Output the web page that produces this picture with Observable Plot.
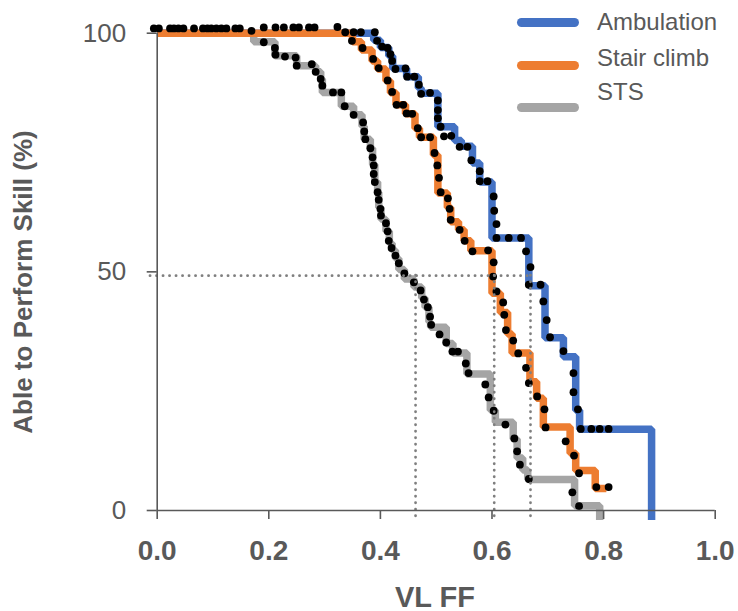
<!DOCTYPE html>
<html><head><meta charset="utf-8">
<script src="https://cdn.jsdelivr.net/npm/d3@7"></script>
<script src="https://cdn.jsdelivr.net/npm/@observablehq/plot@0.6"></script>
<style>
body{margin:0;background:#fff;font-family:"Liberation Sans",Arial,sans-serif;}
#wrap{position:relative;width:738px;height:611px;overflow:hidden;}
#wrap svg{position:absolute;left:0;top:0;}
.lbl{position:absolute;color:#595959;white-space:nowrap;line-height:1;}
.sw{position:absolute;height:9px;border-radius:4.5px;}
</style></head><body><div id="wrap"></div>
<script>
const seriesNames = ["Ambulation", "Stair climb", "STS"];
const seriesColors = ["#4472C4", "#ED7D31", "#A5A5A5"];
const xTicks = [0, 0.2, 0.4, 0.6, 0.8, 1.0];
const yTicks = [0, 50, 100];
const xTitle = "VL FF";
const yTitle = "Able to Perform Skill (%)";

// step outlines (jump position, level after jump)
const ambLineX = [0, 0.388, 0.400, 0.415, 0.422, 0.447, 0.468, 0.473, 0.503, 0.533, 0.545, 0.565, 0.578, 0.600, 0.666, 0.695, 0.728, 0.750, 0.757, 0.886];
const ambLineY = [100, 98.5, 97, 95.2, 92.6, 90.9, 88.5, 87.4, 80.4, 77.5, 76.3, 72.8, 68.8, 57.1, 47.1, 36.2, 32.2, 21, 17, -2];
const stairLineX = [0, 0.350, 0.366, 0.385, 0.395, 0.410, 0.418, 0.428, 0.445, 0.462, 0.470, 0.495, 0.503, 0.520, 0.526, 0.540, 0.550, 0.562, 0.600, 0.615, 0.628, 0.636, 0.668, 0.680, 0.692, 0.740, 0.750, 0.785, 0.805];
const stairLineY = [100, 98.2, 96.5, 94.2, 92.5, 90, 87.5, 85, 83.1, 80.1, 78.2, 74.5, 66.5, 63.5, 60.5, 58.8, 56.5, 54.4, 45.5, 41.5, 37, 33, 27, 23.5, 17.5, 12, 8.4, 4.6, 4.6];
const stsLineX = [0, 0.173, 0.211, 0.250, 0.284, 0.293, 0.296, 0.330, 0.352, 0.367, 0.371, 0.382, 0.386, 0.390, 0.395, 0.397, 0.401, 0.410, 0.416, 0.421, 0.427, 0.433, 0.443, 0.460, 0.474, 0.480, 0.487, 0.490, 0.518, 0.530, 0.555, 0.597, 0.606, 0.638, 0.645, 0.655, 0.664, 0.748, 0.793];
const stsLineY = [100, 98.2, 95.3, 93.2, 91.9, 90.4, 87.6, 84.7, 82.9, 80.5, 77.8, 75.9, 72.5, 68.8, 66.7, 63.5, 61, 58.5, 56, 54.5, 52.8, 50.5, 48.5, 46.8, 44.5, 42.6, 39.5, 38.4, 35, 33, 28.6, 21, 18.5, 15, 11, 8.5, 6.5, 1, -2];

// observations (dots)
const topDotX = [-0.006, 0.003, 0.023, 0.030, 0.038, 0.047, 0.066, 0.082, 0.090, 0.097, 0.106, 0.115, 0.124, 0.140, 0.148, 0.169, 0.191, 0.212, 0.227, 0.244, 0.254, 0.272, 0.282, 0.323, 0.337, 0.352, 0.365, 0.390];
const topDotY = [101, 101, 101, 101, 101, 101, 101, 101, 101, 101, 101, 101, 101, 101, 101, 100.5, 101.2, 101.2, 101.2, 101.2, 101.2, 101.2, 101.2, 101.3, 100.2, 100.2, 100.2, 100.2];
const ambDotX = [0.394, 0.403, 0.413, 0.418, 0.421, 0.427, 0.445, 0.448, 0.461, 0.469, 0.473, 0.489, 0.503, 0.503, 0.503, 0.508, 0.514, 0.527, 0.542, 0.556, 0.563, 0.578, 0.578, 0.592, 0.603, 0.604, 0.608, 0.608, 0.630, 0.652, 0.661, 0.669, 0.666, 0.687, 0.692, 0.698, 0.704, 0.728, 0.746, 0.746, 0.754, 0.759, 0.778, 0.793, 0.809];
const ambDotY = [98.4, 97.2, 96.9, 95.6, 94.2, 92.5, 92.6, 90.9, 90.9, 89.2, 87.3, 87.5, 85.9, 83.9, 82.2, 80.4, 78.4, 78.5, 76.2, 76.2, 73.4, 71.1, 69.0, 69.0, 65.8, 62.8, 60.0, 57.1, 57.1, 57.1, 54.3, 51.0, 47.3, 47.3, 43.8, 39.9, 36.3, 33.4, 28.8, 24.8, 21.2, 17.1, 17.1, 17.1, 17.1];
const stairDotX = [0.349, 0.368, 0.387, 0.397, 0.413, 0.421, 0.429, 0.441, 0.447, 0.457, 0.467, 0.473, 0.489, 0.497, 0.502, 0.505, 0.508, 0.521, 0.524, 0.526, 0.542, 0.551, 0.565, 0.593, 0.603, 0.602, 0.608, 0.620, 0.622, 0.625, 0.638, 0.647, 0.661, 0.666, 0.681, 0.694, 0.696, 0.732, 0.747, 0.756, 0.787, 0.809];
const stairDotY = [98.4, 96.9, 94.6, 92.7, 90.1, 87.7, 85.0, 85.0, 83.2, 83.1, 80.1, 78.2, 78.2, 74.9, 72.3, 69.7, 66.7, 65.4, 63.2, 60.9, 58.8, 56.5, 54.3, 54.5, 52.0, 49.0, 45.9, 43.6, 41.0, 37.8, 35.6, 32.9, 29.9, 26.7, 23.9, 21.2, 17.4, 14.5, 11.5, 7.8, 4.9, 4.9];
const stsDotX = [0.191, 0.211, 0.212, 0.229, 0.248, 0.250, 0.277, 0.284, 0.293, 0.296, 0.315, 0.330, 0.336, 0.352, 0.369, 0.371, 0.373, 0.382, 0.386, 0.388, 0.388, 0.390, 0.395, 0.397, 0.400, 0.401, 0.410, 0.413, 0.415, 0.420, 0.427, 0.433, 0.443, 0.460, 0.472, 0.478, 0.485, 0.489, 0.491, 0.506, 0.518, 0.529, 0.539, 0.553, 0.558, 0.588, 0.594, 0.603, 0.624, 0.640, 0.645, 0.650, 0.666, 0.744, 0.756];
const stsDotY = [98.1, 96.9, 95.5, 95.1, 94.9, 93.2, 93.5, 91.9, 90.4, 89.0, 87.6, 87.6, 84.7, 82.9, 81.3, 79.4, 77.8, 75.9, 74.0, 72.3, 70.5, 68.8, 66.7, 65.1, 63.2, 61.8, 60.2, 58.5, 56.5, 55.0, 53.4, 51.8, 49.7, 47.8, 46.1, 44.2, 42.6, 40.6, 38.9, 36.9, 35.2, 33.3, 33.3, 30.8, 28.8, 26.4, 23.7, 20.9, 18.0, 15.1, 12.4, 9.6, 6.6, 3.8, 0.9];

// 50% reference guides
const halfLevel = 49.2;
const halfX = [0.463, 0.604, 0.669];

const toPts = (xs, ys) => xs.map((x, i) => ({x, y: ys[i]}));
const lines = [
  {pts: toPts(stsLineX, stsLineY), c: seriesColors[2]},
  {pts: toPts(ambLineX, ambLineY), c: seriesColors[0]},
  {pts: toPts(stairLineX, stairLineY), c: seriesColors[1]}
];
const dots = [
  ...toPts(topDotX, topDotY), ...toPts(ambDotX, ambDotY),
  ...toPts(stairDotX, stairDotY), ...toPts(stsDotX, stsDotY)
];

const ink = "#595959";
const chart = Plot.plot({
  width: 738, height: 611,
  marginLeft: 156.7, marginRight: 23.3, marginTop: 32.7, marginBottom: 101,
  x: {domain: [0, 1]},
  y: {domain: [0, 100]},
  style: {fontFamily: "'Liberation Sans', Arial, sans-serif", background: "white", overflow: "visible"},
  marks: [
    ...lines.map(l => Plot.line(l.pts, {x: "x", y: "y", curve: "step-after", stroke: l.c, strokeWidth: 7.5, strokeLinejoin: "miter", strokeLinecap: "butt"})),
    Plot.dot(dots, {x: "x", y: "y", r: 3.9, fill: "black", stroke: "none"}),
    Plot.ruleY([halfLevel], {x1: -0.012, x2: halfX[2], stroke: "#7f7f7f", strokeWidth: 2.8, strokeDasharray: "0.1 6.4", strokeLinecap: "round"}),
    Plot.ruleX(halfX, {y1: halfLevel, y2: -2.2, stroke: "#7f7f7f", strokeWidth: 2.8, strokeDasharray: "0.1 6.4", strokeLinecap: "round"}),
    Plot.ruleX([0], {y1: 0, y2: 100, stroke: ink, strokeWidth: 1.6}),
    Plot.ruleY([0], {x1: 0, x2: 1, stroke: ink, strokeWidth: 1.6}),
    Plot.axisX(xTicks, {tickSize: 9, tickPadding: 21, tickFormat: d3.format(".1f"), fontSize: 28, fontWeight: "bold", color: ink, strokeWidth: 1.6, label: null}),
    Plot.axisY(yTicks, {tickSize: 10, tickPadding: 21, fontSize: 26, color: ink, strokeWidth: 1.6, label: null})
  ]
});
const wrap = document.getElementById("wrap");
wrap.appendChild(chart);

function addLabel(text, css) {
  const d = document.createElement("div");
  d.className = "lbl";
  d.textContent = text;
  Object.assign(d.style, css);
  wrap.appendChild(d);
}
addLabel(xTitle, {left: "435px", top: "597px", transform: "translate(-50%,-50%)", fontWeight: "bold", fontSize: "29px"});
addLabel(yTitle, {left: "23px", top: "282px", transform: "translate(-50%,-50%) rotate(-90deg)", fontWeight: "bold", fontSize: "26px"});

const legSwY = [22.7, 65, 107];
const legTxY = [21.7, 58, 92];
seriesNames.forEach((n, i) => {
  const s = document.createElement("div");
  s.className = "sw";
  Object.assign(s.style, {left: "517px", top: (legSwY[i] - 4.5) + "px", width: "62px", background: seriesColors[i]});
  wrap.appendChild(s);
  addLabel(n, {left: "597px", top: legTxY[i] + "px", transform: "translateY(-50%)", fontSize: "24px"});
});
</script></body></html>
